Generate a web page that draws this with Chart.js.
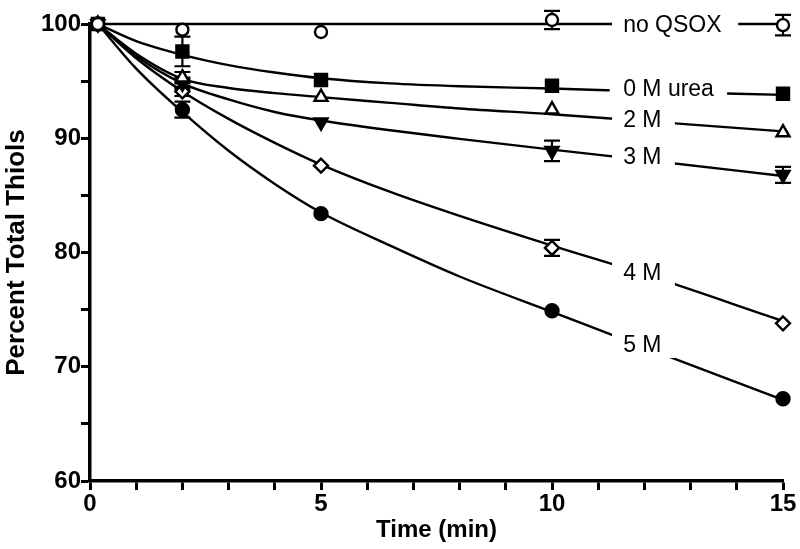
<!DOCTYPE html>
<html lang="en">

<head>
    <meta charset="UTF-8">
    <title>Percent Total Thiols vs Time</title>
    <script src="https://cdn.jsdelivr.net/npm/chart.js"></script>
    <style>
        html, body { margin: 0; padding: 0; background: #fff; }
        .wrap { width: 800px; height: 549px; position: relative; }
    </style>
</head>

<body>
    <div class="wrap">
        <canvas id="thiolchart"></canvas>
    </div>

    <script>
        // Measured points (time in min, first point is the t=0 sample)
        const times = [0.17, 2, 5, 10, 15];
        const noQsox = [100, 99.5, 99.3, 100.35, 99.9];
        const noQsoxErr = [0, 0, 0, 0.8, 0.9];
        const urea0 = [100, 97.6, 95.1, 94.6, 93.9];
        const urea0Err = [0, 1.3, 0, 0, 0];
        const urea2 = [100, 95.3, 93.6, 92.5, 90.5];
        const urea2Err = [0, 0.5, 0, 0, 0];
        const urea3 = [100, 94.8, 91.4, 88.9, 86.8];
        const urea3Err = [0, 0.5, 0, 0.9, 0.7];
        const urea4 = [100, 94.1, 87.6, 80.4, 73.8];
        const urea4Err = [0, 0.4, 0, 0.7, 0];
        const urea5 = [100, 92.5, 83.4, 74.9, 67.2];
        const urea5Err = [0, 0.7, 0, 0, 0];

        // Fitted curves
        const fitTimes = [0.17, 1, 2, 3, 4, 5, 6.5, 8, 10, 12, 15];
        const fitNoQsox = [100, 100, 100, 100, 100, 100, 100, 100, 100, 100, 100];
        const fit0 = [100, 98.5, 97.3, 96.4, 95.75, 95.25, 94.8, 94.55, 94.35, 94.1, 93.8];
        const fit2 = [100, 97.4, 95.2, 94.4, 93.95, 93.6, 93.1, 92.6, 92.1, 91.5, 90.6];
        const fit3 = [100, 97.2, 94.8, 93.4, 92.3, 91.55, 90.7, 89.95, 89.0, 88.1, 86.7];
        const fit4 = [100, 97.0, 94.1, 91.7, 89.6, 87.7, 85.3, 83.2, 80.6, 78.1, 74.0];
        const fit5 = [100, 96.1, 92.3, 88.9, 86.0, 83.5, 80.6, 77.9, 74.8, 71.7, 67.1];

        const xTicks = [0, 5, 10, 15];
        const yTicks = [60, 70, 80, 90, 100];

        const seriesNames = ['no QSOX', '0 M urea', '2 M', '3 M', '4 M', '5 M'];

        const toPts = (xs, ys) => xs.map((x, i) => ({ x: x, y: ys[i] }));

        // inline labels: text anchor (data coords) and the gap cut into the curve
        const labelSpots = [
            { text: seriesNames[0], x: 11.54, y: 99.9, gap: [11.3, 14.03] },
            { text: seriesNames[1], x: 11.54, y: 94.3, gap: [11.25, 13.79] },
            { text: seriesNames[2], x: 11.54, y: 91.6, gap: [11.3, 12.66] },
            { text: seriesNames[3], x: 11.54, y: 88.35, gap: [11.3, 12.66] },
            { text: seriesNames[4], x: 11.54, y: 78.2, gap: [11.3, 12.66] },
            { text: seriesNames[5], x: 11.54, y: 71.9, gap: [11.3, 12.66] },
        ];

        const errSets = [
            [noQsox, noQsoxErr], [urea0, urea0Err], [urea2, urea2Err],
            [urea3, urea3Err], [urea4, urea4Err], [urea5, urea5Err]
        ];

        const fitLine = (ys) => ({
            data: toPts(fitTimes, ys),
            showLine: true,
            borderColor: '#000',
            borderWidth: 2.4,
            pointRadius: 0,
            cubicInterpolationMode: 'monotone',
            clip: false,
            order: 2,
        });

        const marks = (ys, style, filled, radius, rotation) => ({
            data: toPts(times, ys),
            showLine: false,
            pointStyle: style,
            pointRadius: radius,
            pointRotation: rotation || 0,
            pointBackgroundColor: filled ? '#000' : '#fff',
            pointBorderColor: '#000',
            pointBorderWidth: 2.4,
            clip: false,
            order: 1,
        });

        const errorBars = {
            id: 'errorBars',
            beforeDatasetsDraw(chart) {
                const { ctx, scales: { x, y } } = chart;
                ctx.save();
                ctx.strokeStyle = '#000';
                ctx.lineWidth = 2.2;
                errSets.forEach(([vals, errs]) => {
                    times.forEach((t, i) => {
                        if (!errs[i]) return;
                        const px = x.getPixelForValue(t);
                        const top = y.getPixelForValue(vals[i] + errs[i]);
                        const bot = y.getPixelForValue(vals[i] - errs[i]);
                        ctx.beginPath();
                        ctx.moveTo(px, top); ctx.lineTo(px, bot);
                        ctx.moveTo(px - 8, top); ctx.lineTo(px + 8, top);
                        ctx.moveTo(px - 8, bot); ctx.lineTo(px + 8, bot);
                        ctx.stroke();
                    });
                });
                ctx.restore();
            }
        };

        const inlineLabels = {
            id: 'inlineLabels',
            afterDatasetsDraw(chart) {
                const { ctx, scales: { x, y } } = chart;
                ctx.save();
                labelSpots.forEach(l => {
                    const cy = y.getPixelForValue(l.y);
                    const g1 = x.getPixelForValue(l.gap[0]);
                    const g2 = x.getPixelForValue(l.gap[1]);
                    ctx.fillStyle = '#fff';
                    ctx.fillRect(g1, cy - 13, g2 - g1, 26);
                    ctx.fillStyle = '#000';
                    ctx.font = '23px "Liberation Sans", Arial, sans-serif';
                    ctx.textAlign = 'left';
                    ctx.textBaseline = 'middle';
                    ctx.fillText(l.text, x.getPixelForValue(l.x), cy + 1);
                });
                ctx.restore();
            }
        };

        const tickFont = { family: '"Liberation Sans", Arial, sans-serif', size: 24, weight: 'bold' };
        const xTitleFont = { family: '"Liberation Sans", Arial, sans-serif', size: 24, weight: 'bold' };
        const yTitleFont = { family: '"Liberation Sans", Arial, sans-serif', size: 26, weight: 'bold' };

        new Chart(document.getElementById('thiolchart'), {
            type: 'scatter',
            data: {
                datasets: [
                    fitLine(fitNoQsox), fitLine(fit0), fitLine(fit2),
                    fitLine(fit3), fitLine(fit4), fitLine(fit5),
                    marks(noQsox, 'circle', false, 6),
                    marks(urea0, 'rect', true, 8.5),
                    marks(urea2, 'triangle', false, 7.5),
                    marks(urea3, 'triangle', true, 7.5, 180),
                    marks(urea4, 'rectRot', false, 7),
                    marks(urea5, 'circle', true, 6.5),
                ]
            },
            options: {
                responsive: true,
                maintainAspectRatio: false,
                animation: false,
                layout: { padding: { left: 0, right: 17, top: 24, bottom: 0 } },
                plugins: {
                    legend: { display: false },
                    tooltip: { enabled: false },
                },
                scales: {
                    x: {
                        type: 'linear',
                        min: 0, max: 15,
                        afterFit: (s) => { s.height = 68; },
                        border: { display: true, color: '#000', width: 3.5 },
                        grid: { drawOnChartArea: false, drawTicks: true, tickLength: 9, tickWidth: 3, color: '#000' },
                        ticks: {
                            stepSize: 1,
                            color: '#000',
                            font: tickFont,
                            padding: 0,
                            maxRotation: 0,
                            autoSkip: false,
                            callback: (v) => xTicks.includes(v) ? String(v) : '',
                        },
                        title: { display: true, text: 'Time (min)', color: '#000', font: xTitleFont, padding: { top: 4, bottom: 4 } },
                    },
                    y: {
                        min: 60, max: 100,
                        afterFit: (s) => { s.width = 90; },
                        border: { display: true, color: '#000', width: 3.5 },
                        grid: { drawOnChartArea: false, drawTicks: true, tickLength: 9, tickWidth: 3, color: '#000' },
                        ticks: {
                            stepSize: 5,
                            color: '#000',
                            font: tickFont,
                            padding: 0,
                            autoSkip: false,
                            callback: (v) => yTicks.includes(v) ? String(v) : '',
                        },
                        title: { display: true, text: 'Percent Total Thiols', color: '#000', font: yTitleFont, padding: { top: 1, bottom: 1 } },
                    }
                }
            },
            plugins: [errorBars, inlineLabels]
        });
    </script>
</body>

</html>
